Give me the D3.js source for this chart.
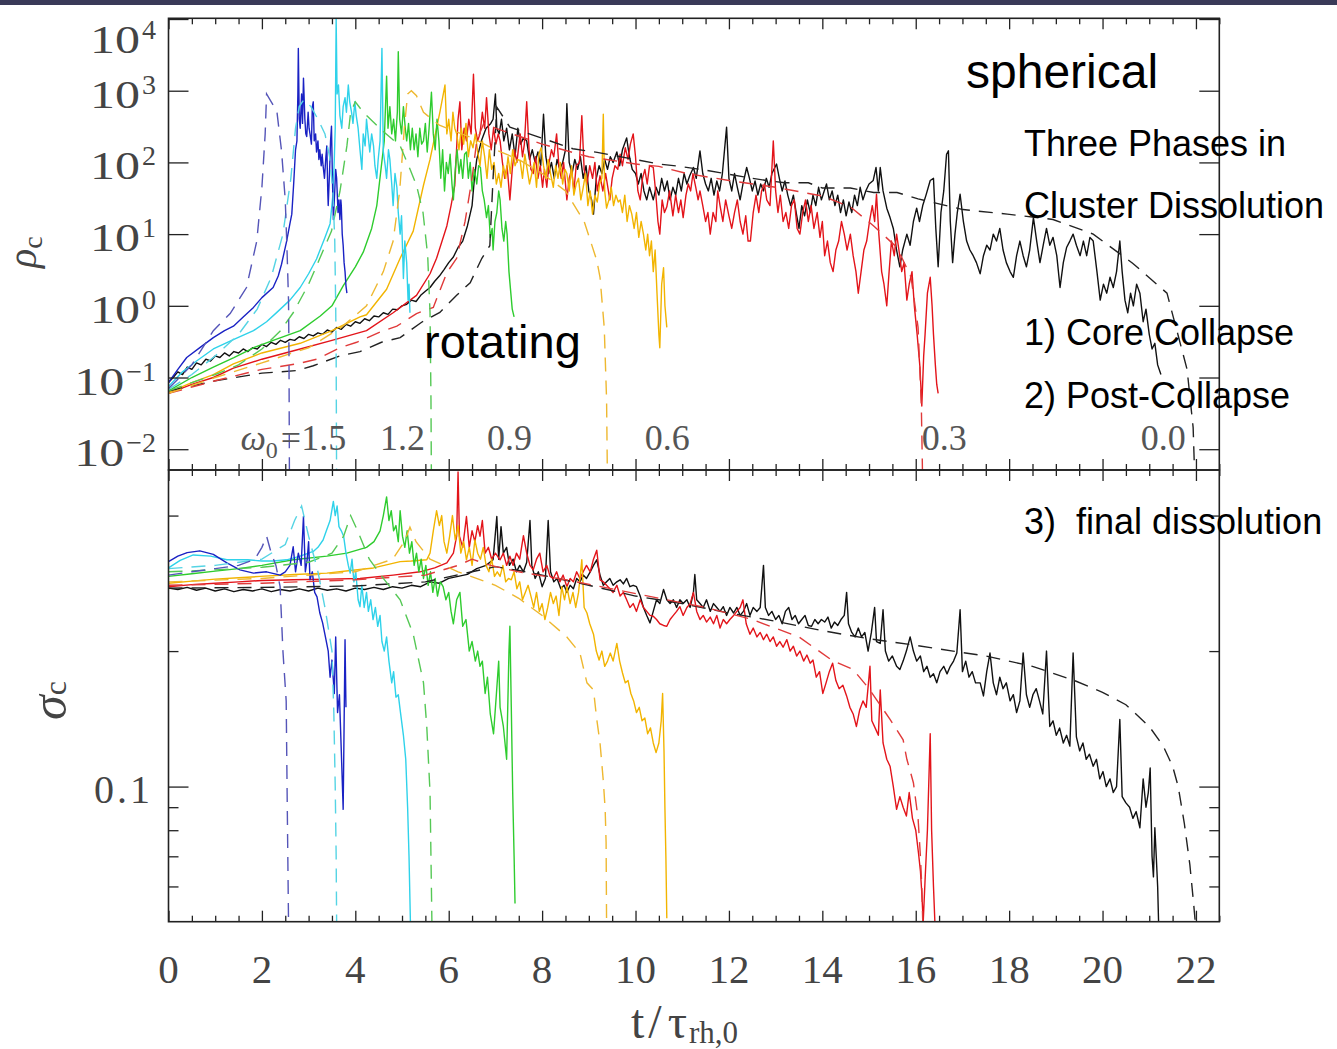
<!DOCTYPE html>
<html>
<head>
<meta charset="utf-8">
<script src="https://cdn.jsdelivr.net/npm/d3@7"></script>
<style>
  body { margin: 0; background: #fff; }
  svg { display: block; }
  .serif { font-family: 'Liberation Serif', 'DejaVu Serif', serif; }
  .sans { font-family: 'Liberation Sans', Arial, sans-serif; fill: #000; white-space: pre; }
</style>
</head>
<body>
<div id="chart"></div>
<script>
// time axis, t / tau_rh,0
const xMajorTicks = [0, 2, 4, 6, 8, 10, 12, 14, 16, 18, 20, 22];
const rhoTicks = [1e-2, 1e-1, 1e0, 1e1, 1e2, 1e3, 1e4];
const rhoExponents = ['\u22122', '\u22121', '0', '1', '2', '3', '4'];
const sigmaTicksLong = [0.1];
const sigmaTicksShort = [0.4, 0.2, 0.09, 0.08, 0.07, 0.06];
const omegaLabels = ['1.5', '1.2', '0.9', '0.6', '0.3', '0.0'];
const omegaLabelT = [1.54, 4.53, 6.82, 10.2, 16.13, 20.82];

// central density, N-body runs (solid)
const rhoBlue = [[0,0.085],[0.2,0.13],[0.39,0.19],[0.7,0.27],[0.96,0.36],[1.2,0.45],[1.39,0.52],[1.6,0.7],[1.82,0.95],[2.0,1.3],[2.24,1.8],[2.35,2.6],[2.42,3.8],[2.53,8],[2.6,14],[2.64,19],[2.68,50],[2.72,150],[2.75,200],[2.77,900],[2.78,3900],[2.80,400],[2.82,300],[2.85,900],[2.87,350],[2.89,1500],[2.92,400],[2.94,250],[2.96,230],[2.99,500],[3.01,300],[3.03,250],[3.06,180],[3.08,600],[3.10,700],[3.12,200],[3.15,250],[3.17,140],[3.20,200],[3.22,110],[3.24,150],[3.27,90],[3.29,130],[3.31,90],[3.34,60],[3.37,120],[3.39,170],[3.41,40],[3.42,25],[3.45,80],[3.47,200],[3.49,320],[3.51,60],[3.53,16],[3.56,40],[3.58,80],[3.60,60],[3.63,20],[3.65,30],[3.67,16],[3.69,30],[3.70,25],[3.72,10],[3.74,7],[3.76,4],[3.78,3],[3.80,1.9],[3.82,1.5]];
const rhoCyan = [[0,0.075],[0.3,0.12],[0.6,0.17],[0.96,0.25],[1.4,0.34],[1.82,0.45],[2.1,0.6],[2.32,0.81],[2.6,1.2],[2.82,1.8],[3.0,2.8],[3.17,4.5],[3.35,9],[3.46,14],[3.52,35],[3.55,110],[3.57,300],[3.59,10000],[3.61,900],[3.64,1200],[3.67,450],[3.71,300],[3.74,600],[3.78,800],[3.81,500],[3.85,1200],[3.88,700],[3.92,500],[3.95,350],[3.99,700],[4.02,450],[4.06,300],[4.10,150],[4.14,80],[4.17,250],[4.21,170],[4.24,400],[4.28,220],[4.31,140],[4.35,250],[4.39,170],[4.42,90],[4.46,60],[4.49,110],[4.53,200],[4.57,3900],[4.60,140],[4.64,90],[4.67,60],[4.71,150],[4.74,110],[4.78,50],[4.81,25],[4.85,70],[4.89,45],[4.92,20],[4.96,10],[4.99,18],[5.03,2.4],[5.06,8],[5.10,4],[5.13,1.2],[5.15,2],[5.17,0.8]];
const rhoGreen = [[0,0.065],[0.5,0.1],[0.96,0.14],[1.4,0.19],[1.82,0.26],[2.3,0.34],[2.82,0.45],[3.25,0.72],[3.5,1.0],[3.74,1.9],[4.0,3.5],[4.17,5.6],[4.35,12],[4.46,25],[4.55,80],[4.62,200],[4.67,1600],[4.70,300],[4.74,600],[4.78,250],[4.82,400],[4.86,200],[4.90,500],[4.92,3500],[4.95,400],[4.99,250],[5.03,600],[5.07,300],[5.10,200],[5.14,350],[5.18,150],[5.22,300],[5.26,150],[5.30,250],[5.34,120],[5.38,300],[5.42,180],[5.46,200],[5.50,350],[5.54,140],[5.58,300],[5.63,950],[5.67,250],[5.71,150],[5.75,400],[5.79,200],[5.83,60],[5.87,150],[5.91,40],[5.95,100],[5.99,70],[6.03,130],[6.07,50],[6.10,30],[6.14,80],[6.18,150],[6.22,70],[6.26,110],[6.30,60],[6.34,130],[6.38,140],[6.42,60],[6.46,100],[6.50,40],[6.55,80],[6.60,50],[6.64,90],[6.68,85],[6.72,40],[6.76,30],[6.81,17],[6.85,25],[6.89,9],[6.93,12],[6.95,6],[6.99,15],[7.03,20],[7.07,40],[7.10,30],[7.14,12],[7.18,8],[7.22,15],[7.25,10],[7.29,3],[7.33,1.5],[7.36,0.9],[7.40,0.7]];
const rhoOrange = [[0,0.062],[0.5,0.085],[0.96,0.11],[1.39,0.155],[2.0,0.22],[2.82,0.3],[3.5,0.45],[4.1,0.7],[4.24,0.75],[4.67,1.7],[4.96,4.6],[5.24,11],[5.46,48],[5.6,110],[5.81,500],[5.92,1200],[5.96,250],[6.00,400],[6.05,200],[6.09,500],[6.13,300],[6.17,250],[6.22,150],[6.27,300],[6.32,180],[6.37,350],[6.42,120],[6.47,200],[6.52,160],[6.57,250],[6.62,140],[6.67,90],[6.72,200],[6.77,120],[6.82,60],[6.87,150],[6.92,80],[6.97,100],[7.02,50],[7.07,70],[7.12,45],[7.17,90],[7.22,60],[7.27,120],[7.32,70],[7.37,150],[7.42,90],[7.47,110],[7.53,105],[7.58,60],[7.63,130],[7.68,80],[7.73,50],[7.78,70],[7.83,100],[7.88,45],[7.93,130],[7.98,160],[8.03,90],[8.08,60],[8.13,110],[8.18,70],[8.24,45],[8.29,90],[8.34,60],[8.39,100],[8.44,50],[8.49,80],[8.53,70],[8.58,40],[8.63,90],[8.68,35],[8.73,50],[8.78,60],[8.83,30],[8.88,45],[8.93,70],[8.98,25],[9.03,40],[9.08,19],[9.13,35],[9.18,28],[9.23,50],[9.28,60],[9.31,470],[9.34,40],[9.38,23],[9.43,30],[9.48,45],[9.53,25],[9.58,35],[9.63,28],[9.67,30],[9.72,20],[9.77,35],[9.82,15],[9.87,25],[9.92,19],[9.97,12],[10.02,20],[10.07,9],[10.12,15],[10.17,10],[10.22,6],[10.26,10],[10.30,5],[10.34,8],[10.38,3],[10.42,6],[10.46,1.5],[10.50,0.4],[10.52,0.26],[10.56,2],[10.60,3.4],[10.63,1],[10.67,0.5]];
const rhoRed = [[0,0.06],[0.5,0.08],[0.96,0.1],[1.39,0.135],[2.0,0.18],[2.82,0.25],[3.5,0.33],[4.24,0.45],[4.81,0.8],[5.31,1.4],[5.6,2.8],[5.74,4.6],[5.96,13],[6.05,25],[6.13,48],[6.2,400],[6.24,700],[6.28,150],[6.33,300],[6.38,200],[6.43,400],[6.48,250],[6.53,1700],[6.57,300],[6.62,200],[6.67,250],[6.72,500],[6.77,300],[6.81,800],[6.86,250],[6.91,150],[6.96,300],[7.01,180],[7.06,250],[7.10,200],[7.15,100],[7.20,60],[7.25,90],[7.31,30],[7.36,80],[7.41,150],[7.46,100],[7.53,250],[7.58,120],[7.62,180],[7.67,700],[7.72,150],[7.76,80],[7.81,70],[7.86,120],[7.91,60],[7.96,90],[8.01,45],[8.05,80],[8.10,45],[8.15,100],[8.20,150],[8.25,120],[8.31,250],[8.36,90],[8.41,60],[8.46,100],[8.53,30],[8.58,60],[8.63,80],[8.68,40],[8.73,90],[8.80,100],[8.85,450],[8.90,80],[8.96,50],[9.02,90],[9.08,60],[9.13,100],[9.18,40],[9.24,65],[9.30,40],[9.36,70],[9.45,30],[9.50,60],[9.56,90],[9.62,80],[9.67,130],[9.72,90],[9.78,160],[9.84,110],[9.89,180],[9.95,250],[10.00,120],[10.05,40],[10.10,30],[10.15,60],[10.20,80],[10.25,50],[10.30,90],[10.38,85],[10.43,40],[10.48,15],[10.52,10],[10.57,30],[10.62,20],[10.67,24],[10.73,40],[10.80,18],[10.86,35],[10.92,20],[10.97,30],[11.02,17],[11.08,35],[11.13,50],[11.18,40],[11.23,70],[11.29,45],[11.34,30],[11.38,40],[11.44,25],[11.50,15],[11.55,20],[11.60,10],[11.66,20],[11.72,15],[11.76,40],[11.81,25],[11.87,15],[11.93,30],[12.00,18],[12.06,12],[12.12,20],[12.18,30],[12.24,15],[12.30,10],[12.36,18],[12.41,8],[12.46,8],[12.52,20],[12.58,35],[12.64,20],[12.70,40],[12.76,50],[12.81,30],[12.88,25],[12.95,200],[13.00,40],[13.05,20],[13.10,35],[13.16,15],[13.22,20],[13.28,12],[13.34,25],[13.40,30],[13.46,12],[13.52,10],[13.58,20],[13.64,30],[13.70,15],[13.76,25],[13.82,12],[13.89,20],[13.95,9],[14.00,15],[14.05,5],[14.11,8],[14.17,4],[14.23,3],[14.29,6],[14.35,8],[14.41,15],[14.47,10],[14.53,6],[14.60,10],[14.66,5],[14.72,3],[14.77,1.5],[14.83,3],[14.89,6],[14.95,8],[15.01,15],[15.07,25],[15.12,15],[15.16,36],[15.21,10],[15.27,3],[15.32,2],[15.38,1],[15.43,3],[15.48,8],[15.54,5],[15.59,10],[15.64,6],[15.70,3],[15.75,4],[15.81,1.2],[15.86,2],[15.92,3],[15.97,1],[16.03,0.4],[16.09,0.14],[16.13,0.04],[16.17,0.2],[16.20,0.4],[16.25,1.5],[16.31,2.5],[16.35,1],[16.38,0.4],[16.42,0.15],[16.45,0.08],[16.48,0.06]];
const rhoBlack = [[0,0.085],[0.1,0.1],[0.2,0.12],[0.3,0.11],[0.4,0.14],[0.5,0.13],[0.6,0.16],[0.7,0.15],[0.8,0.18],[0.9,0.17],[1.0,0.2],[1.1,0.19],[1.2,0.22],[1.3,0.2],[1.4,0.23],[1.5,0.22],[1.6,0.25],[1.7,0.23],[1.8,0.26],[1.9,0.25],[2.0,0.29],[2.1,0.27],[2.2,0.31],[2.3,0.29],[2.4,0.33],[2.5,0.31],[2.6,0.34],[2.7,0.33],[2.8,0.37],[2.9,0.35],[3.0,0.4],[3.1,0.38],[3.2,0.42],[3.3,0.4],[3.4,0.46],[3.5,0.43],[3.6,0.5],[3.7,0.47],[3.8,0.55],[3.9,0.52],[4.0,0.6],[4.1,0.57],[4.2,0.66],[4.3,0.62],[4.4,0.72],[4.5,0.7],[4.6,0.8],[4.7,0.76],[4.8,0.9],[4.9,0.88],[5.0,1.0],[5.1,1.05],[5.2,1.2],[5.3,1.15],[5.4,1.4],[5.5,1.6],[5.6,1.8],[5.7,2.2],[5.8,2.6],[5.9,3.2],[6.0,4],[6.1,4.8],[6.2,6.5],[6.3,8],[6.4,13],[6.5,25],[6.55,60],[6.6,110],[6.7,200],[6.8,300],[6.9,350],[6.95,400],[7.0,900],[7.03,300],[7.08,250],[7.13,400],[7.18,200],[7.24,300],[7.30,150],[7.36,250],[7.42,120],[7.48,300],[7.54,180],[7.60,220],[7.67,200],[7.73,110],[7.79,150],[7.85,100],[7.91,140],[7.97,90],[8.03,470],[8.08,120],[8.14,70],[8.20,100],[8.26,60],[8.32,110],[8.38,80],[8.44,100],[8.50,150],[8.53,660],[8.58,100],[8.64,70],[8.70,110],[8.76,80],[8.82,120],[8.88,60],[8.94,90],[9.00,40],[9.06,30],[9.10,19],[9.16,60],[9.22,90],[9.28,70],[9.34,110],[9.40,80],[9.46,120],[9.52,100],[9.60,140],[9.66,90],[9.72,150],[9.81,220],[9.87,120],[9.93,80],[10.00,70],[10.06,50],[10.12,70],[10.18,40],[10.24,30],[10.30,45],[10.38,30],[10.44,45],[10.50,35],[10.56,60],[10.62,40],[10.68,55],[10.74,30],[10.80,45],[10.86,35],[10.92,60],[10.98,40],[11.04,70],[11.10,50],[11.16,65],[11.24,85],[11.30,60],[11.38,145],[11.44,70],[11.50,50],[11.56,40],[11.62,60],[11.68,35],[11.74,55],[11.80,40],[11.86,70],[11.95,310],[12.00,60],[12.06,40],[12.12,70],[12.18,45],[12.24,30],[12.30,50],[12.38,85],[12.44,60],[12.50,40],[12.56,55],[12.62,35],[12.68,50],[12.74,40],[12.80,60],[12.86,45],[12.92,70],[13.02,95],[13.08,60],[13.14,40],[13.20,55],[13.26,35],[13.32,25],[13.38,35],[13.44,20],[13.50,12],[13.56,25],[13.62,18],[13.68,30],[13.74,20],[13.80,35],[13.86,25],[13.92,45],[13.98,30],[14.04,40],[14.09,50],[14.15,30],[14.21,40],[14.27,25],[14.33,35],[14.39,20],[14.45,30],[14.51,18],[14.57,28],[14.63,20],[14.69,35],[14.75,25],[14.81,45],[14.87,30],[14.93,40],[15.00,50],[15.09,56],[15.15,85],[15.20,40],[15.24,85],[15.30,40],[15.38,23],[15.45,17],[15.52,12],[15.59,6],[15.66,3.5],[15.72,6],[15.81,10],[15.88,7],[15.95,15],[16.02,23],[16.08,15],[16.15,25],[16.22,35],[16.31,56],[16.38,60],[16.43,12],[16.48,3.5],[16.54,20],[16.60,40],[16.66,130],[16.70,145],[16.74,15],[16.79,4],[16.84,10],[16.89,20],[16.95,36],[17.02,15],[17.09,8],[17.16,6],[17.23,5],[17.30,4],[17.38,2.8],[17.45,5],[17.52,7],[17.59,6],[17.66,10],[17.73,8],[17.80,12],[17.87,6],[17.94,4],[18.02,3],[18.09,2.5],[18.16,5],[18.23,8],[18.30,5],[18.37,3.5],[18.44,6],[18.52,17],[18.59,8],[18.66,4],[18.73,7],[18.80,12],[18.87,7],[18.94,9],[19.02,5],[19.09,1.8],[19.16,4],[19.23,6.5],[19.30,8],[19.37,10],[19.44,7],[19.52,5],[19.59,8],[19.66,5],[19.73,9],[19.80,8],[19.88,3],[19.95,1.2],[20.02,2],[20.09,1.5],[20.16,2.5],[20.23,1.8],[20.30,3],[20.37,8],[20.42,3],[20.48,1.2],[20.54,0.8],[20.60,1.5],[20.66,1],[20.73,2],[20.80,1.5],[20.87,0.6],[20.93,0.9],[21.00,0.4],[21.06,0.25],[21.12,0.3],[21.18,0.15],[21.25,0.11]];

// central density, models (dashed)
const rhoBlueModel = [[0,0.07],[0.5,0.15],[0.96,0.45],[1.32,0.78],[1.67,1.8],[1.89,8],[2.0,45],[2.07,250],[2.1,900],[2.2,700],[2.32,520],[2.42,145],[2.5,30],[2.54,5.4],[2.57,1.2],[2.58,0.2],[2.59,0.003]];
const rhoCyanModel = [[0,0.068],[0.5,0.11],[1.0,0.2],[1.5,0.4],[1.9,0.9],[2.2,2.5],[2.45,10],[2.62,60],[2.72,300],[2.8,600],[2.9,750],[3.05,600],[3.2,400],[3.35,250],[3.45,120],[3.52,40],[3.56,8],[3.58,1],[3.59,0.2],[3.6,0.003]];
const rhoGreenModel = [[0,0.065],[0.5,0.085],[1,0.11],[1.5,0.15],[2.0,0.25],[2.4,0.45],[2.67,0.8],[3.0,2],[3.24,4.6],[3.49,11],[3.67,39],[3.82,170],[3.9,500],[4.0,700],[4.17,500],[4.6,270],[4.96,170],[5.17,81],[5.31,48],[5.45,20],[5.55,5],[5.6,0.8],[5.62,0.05],[5.63,0.003]];
const rhoOrangeModel = [[0,0.06],[1,0.1],[2,0.16],[3,0.26],[3.7,0.5],[4.24,1.0],[4.6,3],[4.81,8],[4.95,40],[5.05,300],[5.12,900],[5.2,1000],[5.31,850],[5.46,500],[5.8,330],[6.5,220],[7,150],[7.5,110],[8,70],[8.5,40],[8.9,15],[9.17,4.3],[9.24,2.5],[9.33,0.5],[9.38,0.05],[9.4,0.003]];
const rhoRedModel = [[0,0.06],[1,0.09],[2,0.13],[2.75,0.155],[3.17,0.18],[3.67,0.26],[4.03,0.31],[4.53,0.43],[4.89,0.52],[5.31,0.78],[5.67,0.95],[5.96,2.9],[6.17,4.6],[6.35,15],[6.5,60],[6.6,200],[6.75,350],[7.0,300],[8,180],[9,120],[10,95],[10.5,88],[11.1,70],[12,56],[13,45],[14,34],[14.6,24],[15.1,13],[15.6,6.5],[15.9,2.5],[16.05,0.5],[16.12,0.04],[16.15,0.003]];
const rhoBlackModel = [[0,0.065],[1,0.09],[2,0.115],[2.75,0.125],[3.1,0.146],[3.67,0.2],[4.1,0.23],[4.56,0.31],[4.96,0.36],[5.42,0.59],[5.81,0.81],[6.17,1.4],[6.46,2.1],[6.71,4.6],[6.88,6.9],[6.95,60],[7.03,590],[7.31,310],[8.66,155],[9.18,138],[10.5,95],[10.9,89],[11.5,78],[11.8,72],[12.5,60],[12.8,56],[13.2,52],[13.7,52],[14.0,44],[14.6,44],[15.1,38],[15.6,38],[16.05,31],[17.01,22],[17.96,19],[18.94,16],[19.8,10],[20.65,3.9],[21.38,1.5],[21.81,0.13],[21.94,0.02],[21.98,0.003]];

// central velocity dispersion, N-body runs (solid)
const sigmaBlue = [[0,0.316],[0.2,0.325],[0.4,0.331],[0.67,0.334],[0.96,0.328],[1.25,0.314],[1.53,0.303],[1.82,0.298],[2.1,0.3],[2.39,0.295],[2.5,0.3],[2.6,0.31],[2.67,0.341],[2.72,0.3],[2.78,0.33],[2.84,0.31],[2.89,0.398],[2.93,0.3],[2.97,0.32],[3.0,0.35],[3.03,0.288],[3.08,0.30],[3.13,0.27],[3.18,0.264],[3.24,0.243],[3.30,0.231],[3.36,0.215],[3.42,0.2],[3.46,0.175],[3.50,0.191],[3.55,0.161],[3.58,0.215],[3.62,0.146],[3.66,0.16],[3.70,0.12],[3.74,0.089],[3.78,0.212],[3.80,0.15]];
const sigmaCyan = [[0,0.306],[0.25,0.318],[0.53,0.327],[0.9,0.325],[1.25,0.319],[1.7,0.319],[2.0,0.317],[2.24,0.317],[2.53,0.319],[2.82,0.325],[3.1,0.333],[3.2,0.34],[3.31,0.353],[3.38,0.37],[3.46,0.39],[3.53,0.43],[3.57,0.40],[3.61,0.42],[3.65,0.378],[3.70,0.37],[3.75,0.36],[3.80,0.33],[3.85,0.31],[3.89,0.298],[3.93,0.32],[3.97,0.285],[4.01,0.30],[4.06,0.26],[4.10,0.251],[4.14,0.28],[4.19,0.25],[4.24,0.27],[4.28,0.245],[4.33,0.26],[4.38,0.235],[4.43,0.25],[4.48,0.227],[4.53,0.24],[4.57,0.21],[4.62,0.2],[4.67,0.215],[4.72,0.19],[4.78,0.17],[4.82,0.18],[4.87,0.158],[4.92,0.16],[4.96,0.148],[5.03,0.13],[5.08,0.115],[5.12,0.09],[5.15,0.07],[5.18,0.05]];
const sigmaGreen = [[0,0.293],[0.5,0.297],[1.0,0.301],[1.5,0.305],[2.0,0.31],[2.67,0.319],[3.39,0.325],[3.82,0.33],[4.24,0.34],[4.4,0.35],[4.53,0.37],[4.6,0.40],[4.67,0.44],[4.72,0.39],[4.77,0.41],[4.82,0.37],[4.87,0.38],[4.92,0.35],[4.96,0.41],[5.01,0.36],[5.06,0.34],[5.11,0.37],[5.16,0.33],[5.21,0.35],[5.26,0.31],[5.31,0.33],[5.36,0.30],[5.41,0.32],[5.46,0.29],[5.51,0.31],[5.56,0.28],[5.61,0.30],[5.66,0.27],[5.71,0.29],[5.76,0.265],[5.82,0.285],[5.88,0.278],[5.94,0.26],[6.0,0.27],[6.05,0.245],[6.1,0.23],[6.17,0.26],[6.24,0.27],[6.3,0.227],[6.37,0.235],[6.44,0.2],[6.5,0.21],[6.57,0.19],[6.62,0.2],[6.67,0.185],[6.72,0.19],[6.78,0.161],[6.83,0.175],[6.89,0.145],[6.96,0.131],[7.02,0.16],[7.07,0.19],[7.1,0.15],[7.17,0.136],[7.24,0.115],[7.29,0.2],[7.31,0.227],[7.34,0.15],[7.37,0.097],[7.40,0.07],[7.42,0.055]];
const sigmaOrange = [[0,0.283],[0.5,0.286],[1.0,0.289],[1.5,0.291],[1.96,0.293],[2.7,0.296],[3.39,0.298],[3.9,0.302],[4.39,0.306],[4.96,0.316],[5.2,0.317],[5.53,0.319],[5.6,0.33],[5.67,0.37],[5.74,0.41],[5.8,0.38],[5.85,0.40],[5.9,0.35],[5.96,0.33],[6.02,0.36],[6.08,0.40],[6.14,0.353],[6.2,0.38],[6.26,0.33],[6.32,0.35],[6.38,0.319],[6.44,0.34],[6.5,0.31],[6.56,0.353],[6.62,0.33],[6.68,0.32],[6.74,0.34],[6.8,0.31],[6.86,0.30],[6.92,0.32],[6.98,0.293],[7.04,0.3],[7.1,0.293],[7.16,0.31],[7.22,0.285],[7.28,0.29],[7.34,0.288],[7.40,0.3],[7.46,0.275],[7.52,0.285],[7.58,0.26],[7.64,0.27],[7.70,0.28],[7.76,0.265],[7.82,0.25],[7.88,0.27],[7.94,0.245],[8.0,0.255],[8.06,0.235],[8.12,0.25],[8.18,0.27],[8.24,0.255],[8.3,0.265],[8.36,0.24],[8.42,0.278],[8.48,0.26],[8.53,0.278],[8.6,0.255],[8.66,0.27],[8.72,0.25],[8.78,0.27],[8.85,0.319],[8.90,0.25],[8.96,0.243],[9.02,0.23],[9.1,0.218],[9.16,0.2],[9.22,0.191],[9.28,0.2],[9.34,0.185],[9.4,0.19],[9.46,0.198],[9.52,0.19],[9.6,0.208],[9.66,0.19],[9.72,0.179],[9.78,0.17],[9.84,0.172],[9.9,0.161],[9.96,0.155],[10.02,0.146],[10.08,0.15],[10.14,0.14],[10.2,0.142],[10.26,0.131],[10.32,0.135],[10.38,0.125],[10.44,0.119],[10.5,0.125],[10.55,0.14],[10.58,0.161],[10.61,0.12],[10.63,0.089],[10.65,0.07],[10.67,0.051]];
const sigmaRed = [[0,0.278],[0.5,0.281],[1.0,0.283],[1.5,0.285],[2.0,0.287],[2.67,0.288],[3.4,0.289],[4.1,0.29],[4.81,0.295],[5.39,0.3],[5.7,0.306],[5.96,0.314],[6.1,0.33],[6.17,0.36],[6.2,0.5],[6.23,0.36],[6.3,0.34],[6.38,0.398],[6.44,0.34],[6.5,0.37],[6.56,0.35],[6.62,0.38],[6.67,0.36],[6.72,0.39],[6.78,0.33],[6.85,0.34],[6.92,0.32],[7.0,0.33],[7.1,0.319],[7.17,0.33],[7.24,0.31],[7.31,0.325],[7.38,0.31],[7.45,0.33],[7.52,0.32],[7.6,0.361],[7.67,0.33],[7.74,0.31],[7.81,0.303],[7.88,0.32],[7.95,0.33],[8.02,0.30],[8.1,0.31],[8.17,0.293],[8.24,0.29],[8.31,0.30],[8.38,0.285],[8.45,0.295],[8.53,0.278],[8.6,0.29],[8.67,0.285],[8.74,0.30],[8.81,0.29],[8.88,0.30],[8.95,0.31],[9.03,0.30],[9.1,0.32],[9.17,0.335],[9.24,0.288],[9.31,0.285],[9.38,0.28],[9.45,0.275],[9.52,0.27],[9.6,0.28],[9.67,0.265],[9.74,0.27],[9.81,0.26],[9.88,0.25],[9.95,0.255],[10.02,0.245],[10.1,0.26],[10.17,0.25],[10.24,0.245],[10.31,0.24],[10.38,0.239],[10.45,0.235],[10.52,0.23],[10.6,0.228],[10.67,0.227],[10.74,0.235],[10.81,0.24],[10.88,0.245],[10.95,0.251],[11.02,0.24],[11.1,0.25],[11.17,0.255],[11.24,0.27],[11.31,0.245],[11.38,0.235],[11.45,0.24],[11.52,0.232],[11.6,0.238],[11.67,0.23],[11.74,0.24],[11.81,0.225],[11.88,0.235],[11.95,0.23],[12.02,0.235],[12.1,0.24],[12.17,0.245],[12.24,0.25],[12.3,0.26],[12.37,0.23],[12.45,0.218],[12.52,0.225],[12.6,0.215],[12.67,0.22],[12.74,0.212],[12.81,0.218],[12.88,0.21],[12.95,0.215],[13.02,0.205],[13.09,0.21],[13.16,0.204],[13.24,0.212],[13.31,0.2],[13.38,0.205],[13.45,0.195],[13.52,0.2],[13.6,0.19],[13.67,0.196],[13.74,0.188],[13.8,0.191],[13.87,0.175],[13.94,0.18],[14.01,0.161],[14.08,0.17],[14.15,0.18],[14.22,0.188],[14.29,0.172],[14.36,0.165],[14.44,0.168],[14.52,0.159],[14.59,0.15],[14.66,0.145],[14.73,0.136],[14.8,0.148],[14.87,0.155],[14.94,0.15],[15.02,0.185],[15.06,0.14],[15.13,0.135],[15.2,0.13],[15.24,0.164],[15.3,0.125],[15.38,0.115],[15.45,0.111],[15.52,0.1],[15.59,0.089],[15.66,0.095],[15.73,0.09],[15.8,0.086],[15.86,0.097],[15.93,0.085],[16.0,0.08],[16.06,0.071],[16.1,0.065],[16.13,0.058],[16.16,0.05],[16.2,0.062],[16.25,0.08],[16.31,0.131],[16.34,0.08],[16.38,0.06],[16.41,0.05]];
const sigmaBlack = [[0,0.276],[0.2,0.274],[0.4,0.277],[0.6,0.273],[0.8,0.276],[1.0,0.272],[1.2,0.275],[1.4,0.271],[1.6,0.274],[1.8,0.272],[2.0,0.275],[2.2,0.271],[2.4,0.274],[2.6,0.272],[2.8,0.275],[3.0,0.272],[3.2,0.276],[3.4,0.273],[3.6,0.275],[3.8,0.272],[4.0,0.276],[4.2,0.274],[4.4,0.277],[4.6,0.274],[4.8,0.278],[5.0,0.276],[5.2,0.28],[5.4,0.278],[5.6,0.285],[5.8,0.283],[6.0,0.29],[6.2,0.293],[6.4,0.296],[6.6,0.305],[6.8,0.31],[6.95,0.319],[7.03,0.398],[7.07,0.32],[7.12,0.378],[7.17,0.33],[7.24,0.34],[7.3,0.31],[7.38,0.32],[7.45,0.30],[7.52,0.31],[7.6,0.30],[7.67,0.315],[7.74,0.39],[7.78,0.31],[7.85,0.29],[7.92,0.30],[8.0,0.278],[8.07,0.29],[8.13,0.39],[8.18,0.30],[8.25,0.285],[8.32,0.29],[8.4,0.275],[8.47,0.28],[8.53,0.27],[8.6,0.28],[8.67,0.275],[8.74,0.29],[8.81,0.285],[8.88,0.295],[8.95,0.29],[9.03,0.30],[9.1,0.31],[9.17,0.319],[9.24,0.295],[9.31,0.28],[9.38,0.285],[9.45,0.29],[9.52,0.28],[9.6,0.285],[9.67,0.288],[9.74,0.282],[9.81,0.29],[9.88,0.278],[9.95,0.28],[10.02,0.278],[10.1,0.265],[10.17,0.25],[10.24,0.24],[10.31,0.231],[10.38,0.245],[10.45,0.26],[10.52,0.255],[10.6,0.274],[10.67,0.26],[10.74,0.255],[10.81,0.26],[10.88,0.25],[10.95,0.26],[11.02,0.255],[11.1,0.26],[11.17,0.25],[11.24,0.27],[11.27,0.296],[11.31,0.26],[11.38,0.255],[11.45,0.25],[11.52,0.26],[11.6,0.245],[11.67,0.255],[11.74,0.25],[11.81,0.245],[11.88,0.251],[11.95,0.24],[12.02,0.25],[12.1,0.243],[12.17,0.25],[12.24,0.24],[12.31,0.245],[12.38,0.255],[12.45,0.24],[12.52,0.25],[12.6,0.245],[12.67,0.25],[12.74,0.31],[12.78,0.25],[12.85,0.24],[12.92,0.245],[13.0,0.235],[13.07,0.24],[13.14,0.23],[13.21,0.245],[13.28,0.25],[13.35,0.235],[13.42,0.24],[13.49,0.23],[13.56,0.235],[13.63,0.24],[13.7,0.228],[13.77,0.227],[13.84,0.235],[13.91,0.23],[13.98,0.235],[14.05,0.232],[14.12,0.238],[14.19,0.225],[14.26,0.232],[14.33,0.228],[14.4,0.235],[14.47,0.24],[14.52,0.27],[14.56,0.23],[14.63,0.22],[14.7,0.215],[14.77,0.225],[14.84,0.215],[14.91,0.22],[14.98,0.2],[15.05,0.22],[15.12,0.25],[15.16,0.21],[15.24,0.208],[15.3,0.247],[15.35,0.2],[15.42,0.19],[15.5,0.195],[15.59,0.185],[15.66,0.182],[15.73,0.19],[15.8,0.2],[15.88,0.215],[15.95,0.2],[16.02,0.19],[16.1,0.195],[16.17,0.18],[16.24,0.185],[16.31,0.175],[16.38,0.178],[16.45,0.17],[16.52,0.18],[16.6,0.185],[16.67,0.178],[16.74,0.185],[16.81,0.19],[16.88,0.198],[16.95,0.247],[17.0,0.18],[17.07,0.19],[17.14,0.175],[17.21,0.18],[17.28,0.17],[17.38,0.17],[17.45,0.159],[17.52,0.18],[17.59,0.198],[17.66,0.17],[17.73,0.16],[17.8,0.175],[17.87,0.165],[17.94,0.17],[18.02,0.155],[18.09,0.16],[18.16,0.146],[18.23,0.155],[18.3,0.198],[18.37,0.16],[18.44,0.15],[18.51,0.16],[18.58,0.165],[18.65,0.155],[18.72,0.145],[18.8,0.2],[18.87,0.136],[18.94,0.14],[19.01,0.13],[19.08,0.135],[19.16,0.125],[19.23,0.13],[19.3,0.123],[19.37,0.198],[19.44,0.129],[19.51,0.12],[19.58,0.125],[19.65,0.115],[19.72,0.118],[19.8,0.111],[19.87,0.115],[19.94,0.104],[20.01,0.108],[20.08,0.1],[20.16,0.104],[20.23,0.097],[20.3,0.1],[20.37,0.141],[20.42,0.095],[20.5,0.092],[20.58,0.09],[20.65,0.085],[20.72,0.088],[20.8,0.081],[20.87,0.104],[20.93,0.09],[20.98,0.097],[21.02,0.11],[21.06,0.07],[21.09,0.063],[21.12,0.081],[21.15,0.07],[21.18,0.06],[21.2,0.05]];

// central velocity dispersion, models (dashed)
const sigmaBlueModel = [[0,0.295],[0.5,0.3],[1.0,0.305],[1.5,0.31],[1.85,0.32],[2.0,0.34],[2.1,0.36],[2.2,0.33],[2.3,0.31],[2.39,0.278],[2.45,0.2],[2.52,0.155],[2.54,0.097],[2.57,0.05],[2.58,0.045]];
const sigmaCyanModel = [[0,0.305],[1,0.31],[2,0.32],[2.5,0.345],[2.7,0.39],[2.85,0.42],[3.0,0.36],[3.2,0.3],[3.35,0.25],[3.5,0.2],[3.54,0.146],[3.57,0.1],[3.59,0.07],[3.6,0.05],[3.61,0.045]];
const sigmaGreenModel = [[0,0.3],[1,0.303],[2,0.307],[3,0.315],[3.5,0.33],[3.75,0.36],[3.9,0.4],[4.05,0.37],[4.3,0.32],[4.6,0.29],[4.96,0.26],[5.24,0.218],[5.46,0.17],[5.53,0.136],[5.6,0.097],[5.64,0.05],[5.65,0.045]];
const sigmaOrangeModel = [[0,0.285],[2,0.29],[4,0.3],[4.8,0.32],[5.05,0.35],[5.17,0.377],[5.3,0.35],[5.6,0.32],[6.2,0.3],[7,0.28],[7.5,0.262],[8,0.24],[8.53,0.215],[8.81,0.198],[8.96,0.17],[9.1,0.164],[9.17,0.141],[9.24,0.125],[9.31,0.103],[9.35,0.089],[9.37,0.075],[9.38,0.05],[9.39,0.045]];
const sigmaRedModel = [[0,0.28],[2,0.283],[4,0.288],[5.5,0.295],[6.2,0.31],[6.5,0.32],[6.9,0.31],[7.5,0.3],[8.5,0.288],[9.5,0.275],[10.5,0.262],[11.5,0.25],[12.5,0.235],[13.5,0.215],[14.2,0.191],[14.66,0.182],[15.0,0.165],[15.45,0.141],[15.73,0.127],[15.81,0.115],[15.95,0.102],[16.05,0.085],[16.1,0.07],[16.13,0.06],[16.15,0.05],[16.16,0.045]];
const sigmaBlackModel = [[0,0.276],[2,0.277],[4,0.279],[5.5,0.285],[6.5,0.3],[7.0,0.308],[7.5,0.302],[8,0.295],[9,0.28],[10,0.265],[11,0.255],[12,0.243],[13,0.233],[14,0.222],[15,0.213],[16,0.206],[16.8,0.2],[17.5,0.195],[18.5,0.185],[19.4,0.172],[20.0,0.162],[20.5,0.152],[21.0,0.136],[21.3,0.123],[21.5,0.111],[21.62,0.1],[21.75,0.083],[21.87,0.067],[21.95,0.055],[22.0,0.048]];

const colors = {
  blue: '#1a22c4', cyan: '#2fd2ea', green: '#2ecc2e',
  orange: '#f2b400', red: '#e3141a', black: '#111'
};
const modelColors = {
  blue: '#5555b8', cyan: '#55d4e4', green: '#55c855',
  orange: '#eeb830', red: '#e03a3a', black: '#222'
};

const W = 1337, H = 1049;
const left = 168.5, right = 1219.3;
const topY0 = 18.3, midY = 470, botY1 = 921.7;
const labelGrey = '#444';

const svg = d3.select('#chart').append('svg').attr('width', W).attr('height', H);

// dark strip at the very top of the slide
svg.append('rect').attr('x', 0).attr('y', 0).attr('width', W).attr('height', 5).attr('fill', '#3a3a58');

const x = d3.scaleLinear().domain([0, 22.5]).range([left, right]);
const yRho = d3.scaleLog().domain([Math.pow(10, -2.29), Math.pow(10, 4.01)]).range([midY, topY0]);
const ySig = d3.scaleLog().domain([0.0501, 0.505]).range([botY1, midY]);

const defs = svg.append('defs');
defs.append('clipPath').attr('id', 'clipTop').append('rect')
  .attr('x', left).attr('y', topY0).attr('width', right - left).attr('height', midY - topY0);
defs.append('clipPath').attr('id', 'clipBot').append('rect')
  .attr('x', left).attr('y', midY).attr('width', right - left).attr('height', botY1 - midY);

const drawLines = (clipId, yScale, solids, models) => {
  const g = svg.append('g').attr('clip-path', `url(#${clipId})`);
  const line = d3.line().x(d => x(d[0])).y(d => yScale(d[1]));
  solids.forEach(([key, data]) => {
    g.append('path').datum(data).attr('d', line)
      .attr('fill', 'none').attr('stroke', colors[key]).attr('stroke-width', 1.4)
      .attr('stroke-linejoin', 'round');
  });
  models.forEach(([key, data]) => {
    g.append('path').datum(data).attr('d', line)
      .attr('fill', 'none').attr('stroke', modelColors[key]).attr('stroke-width', 1.4)
      .attr('stroke-dasharray', '14,9');
  });
};

drawLines('clipTop', yRho,
  [['black', rhoBlack], ['red', rhoRed], ['orange', rhoOrange], ['green', rhoGreen], ['cyan', rhoCyan], ['blue', rhoBlue]],
  [['black', rhoBlackModel], ['red', rhoRedModel], ['orange', rhoOrangeModel], ['green', rhoGreenModel], ['cyan', rhoCyanModel], ['blue', rhoBlueModel]]);

drawLines('clipBot', ySig,
  [['black', sigmaBlack], ['red', sigmaRed], ['orange', sigmaOrange], ['green', sigmaGreen], ['cyan', sigmaCyan], ['blue', sigmaBlue]],
  [['black', sigmaBlackModel], ['red', sigmaRedModel], ['orange', sigmaOrangeModel], ['green', sigmaGreenModel], ['cyan', sigmaCyanModel], ['blue', sigmaBlueModel]]);

// ticks
const xMinorTicks = d3.range(0, 22.51, 0.5).filter(v => !xMajorTicks.includes(v));
const tickStyle = sel => {
  sel.select('.domain').remove();
  sel.selectAll('.tick line').attr('stroke', '#222').attr('stroke-width', 1.3);
  sel.selectAll('.tick text').remove();
};
const addAxis = (axis, tx, ty) => svg.append('g').attr('transform', `translate(${tx},${ty})`).call(axis).call(tickStyle);

[topY0, midY].forEach(yy => {
  addAxis(d3.axisTop(x).tickValues(xMajorTicks).tickSize(-11), 0, yy);
  addAxis(d3.axisTop(x).tickValues(xMinorTicks).tickSize(-6), 0, yy);
});
[midY, botY1].forEach(yy => {
  addAxis(d3.axisBottom(x).tickValues(xMajorTicks).tickSize(-11), 0, yy);
  addAxis(d3.axisBottom(x).tickValues(xMinorTicks).tickSize(-6), 0, yy);
});
addAxis(d3.axisLeft(yRho).tickValues(rhoTicks).tickSize(-20), left, 0);
addAxis(d3.axisRight(yRho).tickValues(rhoTicks).tickSize(-20), right, 0);
addAxis(d3.axisLeft(ySig).tickValues(sigmaTicksLong).tickSize(-20), left, 0);
addAxis(d3.axisRight(ySig).tickValues(sigmaTicksLong).tickSize(-20), right, 0);
addAxis(d3.axisLeft(ySig).tickValues(sigmaTicksShort).tickSize(-10), left, 0);
addAxis(d3.axisRight(ySig).tickValues(sigmaTicksShort).tickSize(-10), right, 0);

// frames
[[topY0, midY], [midY, botY1]].forEach(([a, b]) => {
  svg.append('rect').attr('x', left).attr('y', a).attr('width', right - left).attr('height', b - a)
    .attr('fill', 'none').attr('stroke', '#222').attr('stroke-width', 1.6);
});

// x tick labels
svg.append('g').selectAll('text').data(xMajorTicks).join('text')
  .attr('class', 'serif').attr('x', d => x(d)).attr('y', 983)
  .attr('text-anchor', 'middle').attr('font-size', 41).attr('fill', labelGrey)
  .text(d => d);

// rho tick labels: 10^n
rhoTicks.forEach((v, i) => {
  const ty = yRho(v);
  const base = ty + (i === rhoTicks.length - 1 ? 34 : 17);
  const sup = svg.append('text').attr('class', 'serif')
    .attr('x', 156).attr('y', base - 14).attr('text-anchor', 'end')
    .attr('font-size', 28).attr('fill', labelGrey).text(rhoExponents[i]);
  const w = sup.node().getComputedTextLength();
  svg.append('text').attr('class', 'serif')
    .attr('x', 156 - w - 2).attr('y', base).attr('text-anchor', 'end')
    .attr('font-size', 40).attr('fill', labelGrey)
    .attr('textLength', 50).attr('lengthAdjust', 'spacingAndGlyphs').text('10');
});

// sigma tick label
svg.append('text').attr('class', 'serif')
  .attr('x', 150).attr('y', ySig(0.1) + 16).attr('text-anchor', 'end')
  .attr('font-size', 40).attr('fill', labelGrey)
  .attr('textLength', 56).attr('lengthAdjust', 'spacing').text('0.1');

// omega labels
omegaLabels.forEach((lab, i) => {
  const t = svg.append('text').attr('class', 'serif')
    .attr('x', x(omegaLabelT[i])).attr('y', 450).attr('font-size', 36).attr('fill', '#555');
  if (i === 0) {
    t.append('tspan').attr('font-style', 'italic').text('\u03c9');
    t.append('tspan').attr('font-size', 24).attr('dy', 8).text('0');
    t.append('tspan').attr('dy', -8).attr('dx', 3).text('=' + lab);
  } else {
    t.text(lab);
  }
});

// axis titles
const rhoTitle = svg.append('text').attr('class', 'serif')
  .attr('transform', 'translate(36,268) rotate(-90)').attr('font-size', 40).attr('fill', labelGrey);
rhoTitle.append('tspan').attr('font-style', 'italic').text('\u03c1');
rhoTitle.append('tspan').attr('font-size', 28).attr('dy', 6).text('c');

const sigTitle = svg.append('text').attr('class', 'serif')
  .attr('transform', 'translate(66,720) rotate(-90)').attr('font-size', 50).attr('fill', labelGrey);
sigTitle.append('tspan').attr('font-style', 'italic').text('\u03c3');
sigTitle.append('tspan').attr('font-size', 32).text('c');

const xTitle = svg.append('text').attr('class', 'serif').attr('x', 631).attr('y', 1038)
  .attr('font-size', 48).attr('fill', labelGrey);
xTitle.append('tspan').text('t');
xTitle.append('tspan').attr('dx', 4).text('/');
xTitle.append('tspan').attr('dx', 6).text('\u03c4');
xTitle.append('tspan').attr('font-size', 31).attr('dy', 5).attr('dx', 2).text('rh,0');

// slide annotations
const notes = [
  ['spherical', 966, 88, 48],
  ['rotating', 424, 358, 47],
  ['Three Phases in', 1024, 156, 36],
  ['Cluster Dissolution', 1024, 218, 36],
  ['1) Core Collapse', 1024, 345, 36],
  ['2) Post-Collapse', 1024, 408, 36],
  ['3)  final dissolution', 1024, 534, 36]
];
svg.append('g').selectAll('text').data(notes).join('text')
  .attr('class', 'sans').attr('x', d => d[1]).attr('y', d => d[2])
  .attr('font-size', d => d[3]).text(d => d[0]);
</script>
</body>
</html>
